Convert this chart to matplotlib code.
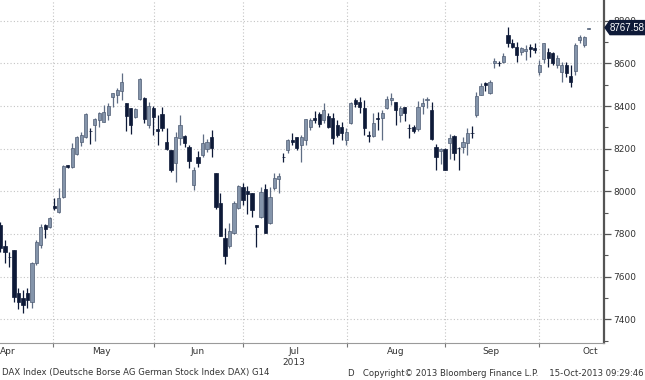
import matplotlib
matplotlib.use("Agg")
import matplotlib.pyplot as plt
import numpy as np
from matplotlib.patches import Polygon

# ---- data (DAX daily OHLC, mid-Apr to 15-Oct-2013) ----
opens = [7842, 7744, 7694, 7725, 7523, 7500, 7523, 7481, 7664, 7748,
         7842, 7833, 7931, 7903, 7973, 8123, 8114, 8175, 8231, 8254,
         8285, 8311, 8334, 8325, 8358, 8442, 8451, 8470, 8414, 8390,
         8348, 8433, 8437, 8311, 8390, 8292, 8362, 8231, 8194, 8133,
         8250, 8259, 8208, 8029, 8161, 8170, 8198, 8254, 8086, 7945,
         7781, 7744, 7804, 7921, 8020, 8001, 7992, 7842, 7879, 8011,
         7851, 8015, 8058, 8162, 8194, 8240, 8254, 8217, 8240, 8301,
         8344, 8362, 8334, 8353, 8344, 8311, 8301, 8240, 8320, 8428,
         8419, 8390, 8264, 8259, 8344, 8344, 8390, 8428, 8419, 8358,
         8395, 8298, 8301, 8292, 8400, 8428, 8381, 8208, 8189, 8198,
         8226, 8259, 8205, 8208, 8226, 8274, 8358, 8451, 8508, 8461,
         8601, 8602, 8606, 8733, 8695, 8676, 8653, 8658, 8676, 8672,
         8559, 8620, 8653, 8648, 8592, 8559, 8592, 8540, 8565, 8709,
         8686, 8763]
highs = [7856, 7772, 7715, 7725, 7547, 7537, 7547, 7669, 7772, 7847,
         7847, 7879, 7969, 8015, 8123, 8125, 8226, 8259, 8278, 8367,
         8297, 8344, 8372, 8404, 8414, 8461, 8484, 8555, 8414, 8390,
         8390, 8531, 8442, 8419, 8400, 8358, 8395, 8297, 8194, 8278,
         8358, 8264, 8217, 8114, 8189, 8269, 8245, 8287, 8086, 7992,
         7828, 7851, 7954, 8029, 8039, 8025, 7992, 7842, 8020, 8034,
         8020, 8086, 8086, 8180, 8245, 8273, 8254, 8264, 8339, 8344,
         8376, 8372, 8414, 8367, 8367, 8334, 8325, 8297, 8419, 8437,
         8442, 8428, 8283, 8367, 8372, 8381, 8447, 8461, 8419, 8400,
         8395, 8315, 8311, 8423, 8437, 8442, 8419, 8222, 8203, 8203,
         8269, 8264, 8208, 8254, 8297, 8306, 8465, 8508, 8512, 8522,
         8625, 8611, 8648, 8770, 8714, 8700, 8676, 8686, 8690, 8695,
         8615, 8695, 8672, 8653, 8639, 8606, 8606, 8592, 8695, 8733,
         8728, 8768]
lows = [7715, 7664, 7645, 7481, 7448, 7430, 7453, 7453, 7655, 7734,
        7781, 7828, 7912, 7898, 7969, 8109, 8109, 8170, 8212, 8250,
        8222, 8236, 8301, 8325, 8334, 8395, 8414, 8428, 8283, 8269,
        8344, 8428, 8320, 8297, 8264, 8217, 8283, 8194, 8090, 8044,
        8217, 8208, 8109, 8006, 8114, 8161, 8184, 8161, 7917, 7790,
        7659, 7734, 7800, 7917, 7936, 7893, 7879, 7739, 7875, 7804,
        7847, 8006, 7992, 8137, 8180, 8217, 8194, 8137, 8217, 8287,
        8320, 8301, 8320, 8297, 8222, 8254, 8240, 8217, 8315, 8395,
        8367, 8264, 8231, 8254, 8287, 8240, 8386, 8404, 8311, 8325,
        8329, 8250, 8273, 8283, 8362, 8390, 8240, 8100, 8128, 8100,
        8151, 8147, 8100, 8180, 8170, 8250, 8348, 8451, 8470, 8456,
        8578, 8587, 8601, 8676, 8672, 8606, 8639, 8615, 8629, 8648,
        8545, 8601, 8583, 8592, 8578, 8512, 8536, 8489, 8545, 8695,
        8676, 8762]
closes = [7734, 7715, 7690, 7504, 7481, 7467, 7490, 7664, 7762, 7833,
          7823, 7875, 7921, 7969, 8118, 8114, 8203, 8254, 8264, 8362,
          8281, 8339, 8367, 8372, 8400, 8461, 8475, 8512, 8353, 8311,
          8386, 8526, 8339, 8400, 8348, 8283, 8297, 8198, 8100, 8254,
          8311, 8226, 8142, 8100, 8133, 8226, 8231, 8203, 7926, 7790,
          7697, 7814, 7945, 8025, 7959, 7987, 7912, 7833, 7997, 7804,
          7973, 8062, 8072, 8160, 8240, 8231, 8203, 8254, 8339, 8334,
          8334, 8315, 8381, 8301, 8250, 8264, 8273, 8278, 8414, 8409,
          8395, 8297, 8259, 8320, 8337, 8367, 8433, 8437, 8381, 8390,
          8367, 8295, 8283, 8395, 8414, 8433, 8245, 8161, 8198, 8100,
          8250, 8180, 8201, 8231, 8273, 8272, 8447, 8494, 8498, 8512,
          8611, 8600, 8634, 8695, 8676, 8639, 8672, 8667, 8667, 8662,
          8592, 8695, 8625, 8601, 8625, 8592, 8555, 8512, 8686, 8723,
          8723, 8767.58]

month_labels = ["Apr", "May", "Jun", "Jul", "Aug", "Sep", "Oct"]
month_label_pos = [1.6, 22.5, 43.9, 65.4, 88.0, 109.2, 131.4]   # trading-day index
month_bounds = [11.8, 34.1, 54.1, 77.1, 99.1, 120.0]           # first trading day of month
y_ticks = [7400, 7600, 7800, 8000, 8200, 8400, 8600, 8800]
last_value = 8767.58

UP_FILL = "#8494aa"
UP_EDGE = "#4f5d74"
DOWN = "#0e1a38"

W, H = 645, 380
fig = plt.figure(figsize=(W / 100, H / 100), dpi=100)
ax_l, ax_r, ax_b, ax_t = 0, 604, 343, 0
ax = fig.add_axes([ax_l / W, 1 - ax_b / H, (ax_r - ax_l) / W, (ax_b - ax_t) / H])

x = np.arange(len(closes))
o = np.array(opens, float); h = np.array(highs, float)
l = np.array(lows, float); c = np.array(closes, float)
up = c >= o

# wicks
ax.vlines(x[up], l[up], h[up], color="#5f6d84", lw=0.9, zorder=3)
ax.vlines(x[~up], l[~up], h[~up], color=DOWN, lw=0.9, zorder=3)
# bodies
bottom = np.minimum(o, c)
height = np.maximum(np.abs(c - o), 2.5)
ax.bar(x[up], height[up], bottom=bottom[up], width=0.72, color=UP_FILL,
       edgecolor=UP_EDGE, linewidth=0.5, zorder=4)
ax.bar(x[~up], height[~up], bottom=bottom[~up], width=0.72, color=DOWN,
       edgecolor=DOWN, linewidth=0.5, zorder=4)

ax.set_xlim(-0.1, 134.4)
ax.set_ylim(7289, 8897)

# axes styling
for s in ["left", "top"]:
    ax.spines[s].set_visible(False)
ax.spines["bottom"].set_color("#9a9a9a")
ax.spines["bottom"].set_linewidth(0.8)
ax.spines["right"].set_color("#555555")
ax.spines["right"].set_linewidth(1.6)

ax.yaxis.tick_right()
ax.set_yticks(y_ticks)
ax.set_yticklabels([str(v) for v in y_ticks])
ax.set_yticks(np.arange(7300, 8900, 100), minor=True)
ax.tick_params(axis="y", which="major", length=5, width=0.9, color="#555555",
               labelsize=6.5, labelcolor="#333333", pad=1.5)
ax.tick_params(axis="y", which="minor", length=3, width=0.8, color="#555555")

ax.set_xticks(month_bounds)
ax.set_xticklabels([""] * len(month_bounds))
ax.set_xticks(month_label_pos, minor=True)
ax.set_xticklabels(month_labels, minor=True)
ax.tick_params(axis="x", which="major", length=3, width=0.8, color="#777777")
ax.tick_params(axis="x", which="minor", length=0, labelsize=6.5,
               labelcolor="#333333", pad=3)

ax.grid(True, axis="y", which="major", color="#c4c4c4", lw=0.8,
        linestyle=(0, (1, 2)))
ax.grid(True, axis="x", which="major", color="#c4c4c4", lw=0.8,
        linestyle=(0, (1, 2)))
ax.set_axisbelow(True)

# "2013" under Jul
ax.text(month_label_pos[3], -0.045, "2013", transform=ax.get_xaxis_transform(),
        ha="center", va="top", fontsize=6.5, color="#333333")

# last price tag
fig.canvas.draw()
ypx = ax.transData.transform((0, last_value))[1]
tip_x = ax_r + 1
pts_px = [(tip_x, ypx), (tip_x + 5, ypx + 7), (W, ypx + 7), (W, ypx - 7),
          (tip_x + 5, ypx - 7)]
pts_fig = [(px / W, py / H) for px, py in pts_px]
fig.patches.append(Polygon(pts_fig, closed=True, transform=fig.transFigure,
                           facecolor="#0e1a38", edgecolor="#0e1a38", zorder=10))
fig.text((tip_x + 5 + W) / 2 / W, ypx / H, f"{last_value:.2f}", color="white",
         fontsize=7.0, family=["Liberation Sans", "DejaVu Sans"],
         ha="center", va="center", zorder=11)

# footer
fig.text(2 / W, 1 - 373 / H, "DAX Index (Deutsche Borse AG German Stock Index DAX) G14",
         fontsize=6.1, color="#333333", ha="left", va="center")
fig.text(643 / W, 1 - 373 / H,
         "D   Copyright\u00a9 2013 Bloomberg Finance L.P.    15-Oct-2013 09:29:46",
         fontsize=6.1, color="#333333", ha="right", va="center")

fig.savefig("out.png", dpi=100)
